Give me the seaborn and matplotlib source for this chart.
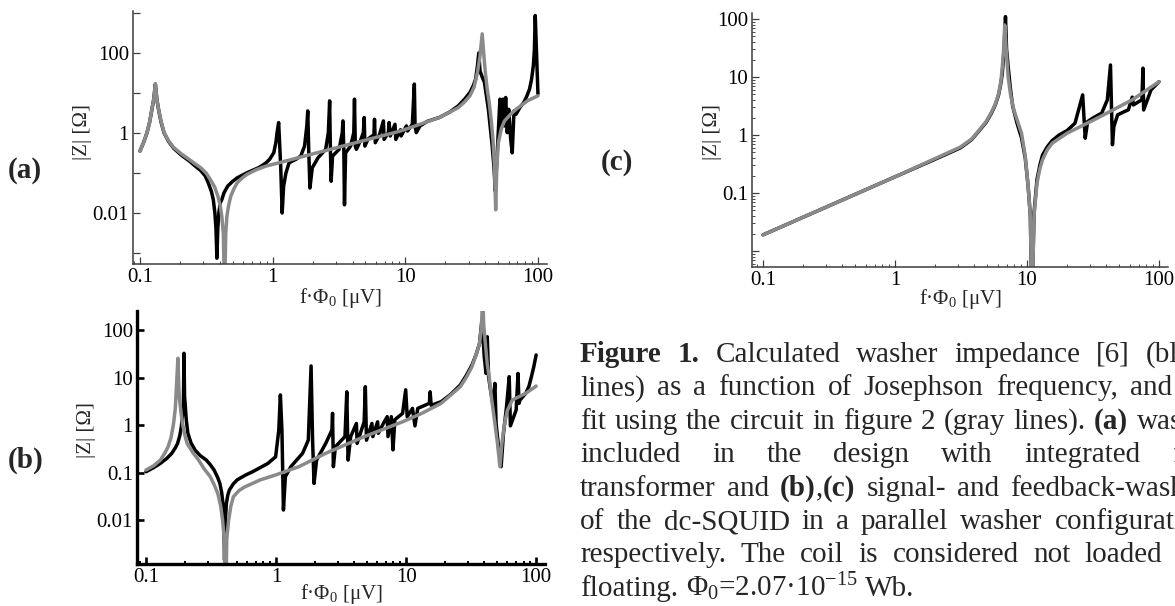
import numpy as np
import pandas as pd
import seaborn as sns
import matplotlib.pyplot as plt
from matplotlib.ticker import LogLocator, NullFormatter, NullLocator

# ---- panel (a): washer with integrated flux transformer ----
a_calc_x = [0.1, 0.107, 0.113, 0.118, 0.123, 0.127, 0.1306, 0.134, 0.138, 0.144, 0.152, 0.165, 0.18, 0.205,
            0.235, 0.26, 0.287, 0.31, 0.327, 0.345, 0.357, 0.367, 0.374, 0.38, 0.386, 0.393, 0.403, 0.414,
            0.43, 0.458, 0.5, 0.541, 0.6, 0.64, 0.7, 0.782, 0.85, 0.893, 0.95, 1.02, 1.06, 1.08, 1.11, 1.15,
            1.18, 1.21, 1.26, 1.33, 1.5, 1.63, 1.74, 1.81, 1.84, 1.87, 1.91, 1.99, 2.2, 2.51, 2.63, 2.69,
            2.72, 2.76, 2.83, 3.17, 3.35, 3.39, 3.44, 3.48, 3.55, 3.87, 4.09, 4.14, 4.2, 4.28, 4.58, 4.83,
            4.9, 4.96, 5.24, 5.8, 5.86, 5.94, 6.4, 6.84, 6.92, 7.45, 7.55, 7.7, 8.36, 8.48, 9.2, 9.3, 10.2,
            10.4, 11.3, 11.7, 11.85, 12.1, 12.9, 14.7, 18, 21.5, 25.1, 28, 30.7, 32.5, 33.9, 35, 35.8,
            36.6, 38, 39.5, 41, 42.3, 43.8, 45.2, 46.6, 47.7, 48.6, 49.6, 51.7, 52.7, 54.5, 55.6, 57.1,
            58.7, 60.2, 62.3, 64, 66, 68.4, 73, 78.2, 82, 86.4, 89.5, 92.3, 94, 95.4, 97.3, 100]
a_calc_y = [0.353, 0.6, 1.02, 1.8, 3.9, 7.0, 16.7, 7.0, 3.9, 1.9, 1.0, 0.6, 0.41, 0.28,
            0.2, 0.15, 0.115, 0.085, 0.057, 0.035, 0.0216, 0.01, 0.004, 0.00074, 0.004, 0.01, 0.018, 0.0216,
            0.032, 0.0467, 0.062, 0.0756, 0.09, 0.101, 0.115, 0.135, 0.16, 0.18, 0.22, 0.32, 0.6, 1.02, 1.82,
            0.149, 0.01, 0.047, 0.1, 0.18, 0.22, 0.265, 0.47, 1.5, 3.56, 0.39, 0.042, 0.135, 0.24, 0.39,
            1.02, 6.36, 0.57, 0.062, 0.265, 0.39, 1.02, 2.0, 0.39, 0.016, 0.32, 0.47, 1.02, 7.0, 0.47,
            0.39, 0.63, 1.02, 2.43, 0.47, 0.71, 0.9, 2.2, 0.57, 0.92, 2.0, 0.69, 1.02, 1.82, 0.84, 1.65,
            0.69, 1.2, 0.84, 1.5, 1.12, 1.65, 16.7, 1.5, 1.02, 1.5, 1.96, 2.43, 3.3, 4.77, 7.0, 10.3, 15,
            22.2, 48, 100, 35, 25, 18.4, 8, 3.9, 1.3, 0.47, 0.14, 0.035, 0.12, 0.47, 7.0, 1.24, 7.0, 1.5,
            7.7, 1.02, 3.9, 0.69, 0.32, 3.56, 2.94, 4.3, 5.8, 8.0, 12.5, 22, 48, 120, 865, 126, 9.4]
a_fit_x = [0.1, 0.107, 0.113, 0.118, 0.123, 0.127, 0.1306, 0.134, 0.138, 0.144, 0.152, 0.165, 0.18, 0.205,
           0.235, 0.26, 0.287, 0.315, 0.339, 0.365, 0.387, 0.403, 0.414, 0.425, 0.434, 0.443, 0.452, 0.465,
           0.483, 0.51, 0.541, 0.59, 0.64, 0.75, 0.893, 1.25, 1.74, 2.43, 3.39, 4.73, 6.6, 9.2, 12.9, 18,
           25.1, 28, 30.7, 33, 35, 36.5, 38, 39.2, 40.1, 41.5, 42.9, 44.5, 45.8, 47, 48, 49, 50.3, 53, 56,
           62, 68.4, 83.5, 100]
a_fit_y = [0.353, 0.6, 1.02, 1.8, 3.9, 7.0, 16.7, 7.0, 3.9, 2.0, 1.02, 0.62, 0.43, 0.3,
           0.218, 0.17, 0.135, 0.1, 0.069, 0.045, 0.026, 0.015, 0.0082, 0.003, 0.0001, 0.003, 0.0082, 0.015,
           0.026, 0.04, 0.057, 0.075, 0.092, 0.12, 0.149, 0.198, 0.265, 0.353, 0.472, 0.63, 0.84, 1.12,
           1.65, 2.43, 4.3, 6.0, 8.5, 14, 32.7, 80, 300, 80, 32.7, 12, 5.8, 2.0, 0.69, 0.15, 0.012, 0.15,
           0.57, 1.3, 2.0, 2.9, 3.9, 6.4, 8.5]

# ---- panel (b): signal washer ----
b_calc_x = [0.1, 0.115, 0.129, 0.145, 0.158, 0.168, 0.175, 0.182, 0.187, 0.191, 0.194, 0.196, 0.198, 0.2,
            0.204, 0.21, 0.222, 0.238, 0.26, 0.291, 0.31, 0.334, 0.355, 0.37, 0.382, 0.391, 0.397, 0.402,
            0.408, 0.415, 0.425, 0.438, 0.47, 0.502, 0.58, 0.66, 0.76, 0.867, 0.993, 1.05, 1.08, 1.11,
            1.14, 1.18, 1.3, 1.6, 1.77, 1.86, 1.91, 1.96, 2.05, 2.41, 2.69, 2.72, 2.76, 2.86, 3.39, 3.5,
            3.58, 3.75, 4.15, 4.2, 4.76, 4.86, 4.96, 5.46, 5.55, 6.04, 6.12, 6.69, 7.16, 7.26, 7.7, 7.93,
            8.2, 9.4, 9.93, 10.2, 11.2, 11.7, 12.3, 15.1, 15.3, 15.6, 18.6, 22, 26.1, 29, 32.1, 34.5, 36.7,
            38.3, 39.9, 41.2, 42.1, 43.1, 44.8, 46.6, 48.2, 49.2, 50.5, 51.7, 53.8, 56.1, 59.2, 62.1, 63.4,
            70.2, 72.6, 73.8, 75.2, 83.2, 88, 92, 96, 100]
b_calc_y = [0.104, 0.128, 0.156, 0.2, 0.254, 0.33, 0.41, 0.6, 0.92, 1.6, 2.86, 32.3, 4.0, 2.86,
            1.3, 0.67, 0.42, 0.3, 0.23, 0.183, 0.15, 0.113, 0.08, 0.059, 0.038, 0.022, 0.01, 0.00144,
            0.01, 0.022, 0.033, 0.043, 0.058, 0.07, 0.088, 0.104, 0.128, 0.156, 0.215, 0.785, 4.29, 0.785,
            0.0163, 0.082, 0.133, 0.254, 0.48, 17.5, 0.48, 0.059, 0.183, 0.41, 0.785, 1.76, 0.133, 0.35,
            0.57, 5.0, 0.183, 0.57, 1.08, 0.41, 1.17, 6.4, 0.48, 1.08, 0.57, 1.17, 0.67, 1.08, 1.5, 0.57,
            1.5, 0.3, 1.3, 1.76, 5.5, 1.5, 2.24, 0.96, 2.24, 2.86, 5.0, 2.6, 3.1, 4.4, 6.95, 11, 18.3, 30,
            52, 162, 27.5, 12.2, 72, 10.4, 5.0, 2.86, 7.5, 1.08, 0.55, 0.3, 0.133, 0.67, 2.43, 10.4, 0.96,
            2.07, 12.2, 2.86, 3.36, 4.64, 6.5, 10.4, 17, 29.8]
b_fit_x = [0.1, 0.115, 0.129, 0.14, 0.148, 0.156, 0.163, 0.168, 0.171, 0.176, 0.179, 0.181, 0.186, 0.191,
           0.198, 0.207, 0.23, 0.254, 0.28, 0.312, 0.335, 0.357, 0.375, 0.388, 0.4, 0.409, 0.418, 0.432,
           0.45, 0.47, 0.52, 0.576, 0.756, 0.993, 1.5, 2.41, 4.77, 9.4, 13.2, 18.6, 26.1, 29, 32.1, 34.5,
           36.7, 38, 38.8, 39.6, 40.7, 42, 43.5, 45.5, 48.2, 50.5, 52.7, 54.5, 57.2, 60, 65.6, 83.2, 100]
b_fit_y = [0.113, 0.14, 0.183, 0.26, 0.35, 0.55, 1.08, 2.2, 5.5, 25.4, 6.0, 3.5, 1.8, 1.08,
           0.65, 0.41, 0.26, 0.183, 0.12, 0.082, 0.055, 0.036, 0.02, 0.01, 0.004, 0.0001, 0.004, 0.01,
           0.02, 0.031, 0.042, 0.05, 0.07, 0.089, 0.133, 0.254, 0.57, 1.17, 1.76, 2.86, 6.4, 10, 16.9, 30,
           52, 120, 500, 120, 52, 20, 10.4, 3.5, 1.08, 0.4, 0.133, 0.4, 1.08, 2.0, 3.36, 4.64, 6.6]

# ---- panel (c): feedback washer ----
c_calc_x = [0.1, 0.3, 1, 2, 3.13, 3.8, 4.36, 4.9, 5.33, 5.75, 6.1, 6.35, 6.5, 6.7, 6.87, 7.0, 7.2, 7.5,
            7.8, 8.4, 9.08, 9.7, 10.2, 10.6, 10.9, 11.3, 11.9, 12.5, 13.1, 14.2, 15.5, 17.5, 20.2, 23.1,
            26.4, 27.6, 28.8, 32, 36.8, 40.6, 42.9, 43.7, 44.4, 45.5, 48.6, 54, 58.6, 62.7, 64, 68, 74.2,
            75.6, 76.5, 87, 100]
c_calc_y = [0.019, 0.057, 0.19, 0.38, 0.6, 0.83, 1.2, 1.65, 2.3, 3.3, 5.0, 8.0, 11.6, 30, 110, 30, 15,
            6.0, 3.1, 1.6, 0.9, 0.4, 0.13, 0.04, 0.001, 0.045, 0.17, 0.3, 0.45, 0.62, 0.8, 1.0, 1.2, 1.6,
            4.92, 0.88, 1.71, 2.0, 2.38, 4.04, 16.1, 2.72, 0.68, 1.4, 2.23, 2.5, 2.72, 4.5, 3.3, 3.6, 4.04,
            14.2, 2.7, 6.0, 8.3]
c_fit_x = [0.1, 0.3, 1, 2, 3.13, 3.8, 4.36, 4.9, 5.33, 5.75, 6.1, 6.35, 6.5, 6.65, 6.78, 6.95, 7.2, 7.5,
           7.95, 8.5, 9.08, 9.7, 10.2, 10.6, 10.9, 11.3, 11.9, 12.5, 13.1, 14.2, 15.5, 20.2, 32.2, 45,
           62.7, 100]
c_fit_y = [0.019, 0.057, 0.19, 0.39, 0.62, 0.85, 1.23, 1.7, 2.38, 3.4, 5.2, 8.5, 15, 30, 79, 30, 10,
           5.0, 2.7, 1.7, 1.08, 0.43, 0.13, 0.04, 0.001, 0.04, 0.148, 0.26, 0.374, 0.55, 0.72, 1.08, 1.83,
           2.72, 4.04, 8.3]

x_ticks = [0.1, 1, 10, 100]
x_tick_labels = ['0.1', '1', '10', '100']

caption = [
    '*Figure* *1.* Calculated washer impedance [6] (black',
    'lines) as a function of Josephson frequency, and the',
    'fit using the circuit in figure 2 (gray lines). *(a)* washer',
    'included in the design with integrated flux',
    'transformer and *(b)*,*(c)* signal- and feedback-washers',
    'of the dc-SQUID in a parallel washer configuration,',
    'respectively. The coil is considered not loaded and',
    'floating. Φ$_0$=2.07·10$^{-15}$ Wb.',
]

sns.set_theme(style='ticks')
plt.rcParams['font.family'] = ['Liberation Serif', 'DejaVu Serif']
plt.rcParams['mathtext.fontset'] = 'custom'
plt.rcParams['mathtext.rm'] = 'Liberation Serif'
plt.rcParams['mathtext.it'] = 'Liberation Serif:italic'
plt.rcParams['mathtext.bf'] = 'Liberation Serif:bold'
plt.rcParams['mathtext.default'] = 'regular'

W, H = 1175, 606
fig = plt.figure(figsize=(W / 100, H / 100), dpi=100)


def box(left, top, right, bottom):
    return [left / W, 1 - bottom / H, (right - left) / W, (bottom - top) / H]


def panel(rect, calc_x, calc_y, fit_x, fit_y, xlim, ylim, yticks, ylabels, axis_color, axis_width, yminor=True):
    ax = fig.add_axes(rect)
    sns.lineplot(x=calc_x, y=calc_y, ax=ax, color='black', linewidth=2.5, estimator=None, sort=False)
    sns.lineplot(x=fit_x, y=fit_y, ax=ax, color='#8a8a8a', linewidth=2.5, estimator=None, sort=False)
    ax.set_xscale('log')
    ax.set_yscale('log')
    ax.set_xticks(x_ticks, x_tick_labels)
    ax.set_yticks(yticks, ylabels)
    ax.set_xlim(*xlim)
    ax.set_ylim(*ylim)
    ax.xaxis.set_minor_locator(LogLocator(subs=np.arange(2, 10)))
    ax.xaxis.set_minor_formatter(NullFormatter())
    if yminor:
        ax.yaxis.set_minor_locator(LogLocator(subs=np.arange(2, 10)))
    else:
        ax.yaxis.set_minor_locator(NullLocator())
    ax.yaxis.set_minor_formatter(NullFormatter())
    ax.set_xlabel('')
    ax.set_ylabel('')
    sns.despine(ax=ax)
    for s in ['left', 'bottom']:
        ax.spines[s].set_color(axis_color)
        ax.spines[s].set_linewidth(axis_width)
    ax.tick_params(which='both', direction='in', color=axis_color, labelsize=15, pad=3, labelcolor='black')
    ax.tick_params(which='major', length=5, width=axis_width * 0.8)
    ax.tick_params(which='minor', length=2.5, width=axis_width * 0.6)
    ax.patch.set_alpha(0)
    return ax


panel(box(133, 11, 547, 264), a_calc_x, a_calc_y, a_fit_x, a_fit_y, (0.0886, 117), (5.3e-4, 1120),
      [1e-3, 1e-2, 0.1, 1, 10, 100, 1000], ['', '0.01', '', '1', '', '100', ''], '#3c3c3c', 1.1)
panel(box(137, 311, 545, 564), b_calc_x, b_calc_y, b_fit_x, b_fit_y, (0.0853, 117), (1.19e-3, 251),
      [0.01, 0.1, 1, 10, 100], ['0.01', '0.1', '1', '10', '100'], 'black', 2.4, yminor=False)
panel(box(752, 13, 1168, 267), c_calc_x, c_calc_y, c_fit_x, c_fit_y, (0.0825, 117), (0.0053, 127),
      [0.01, 0.1, 1, 10, 100], ['', '0.1', '1', '10', '100'], '#3c3c3c', 1.1)

# axis labels and panel letters
xlab = 'f·Φ$_0$ [μV]'
ylab = '|Z| [Ω]'
for x, y in [(340, 298), (341, 594), (960, 299)]:
    fig.text(x / W, 1 - y / H, xlab, fontsize=15, ha='center', va='center')
for x, y in [(82, 132), (87, 430), (712, 132)]:
    fig.text(x / W, 1 - y / H, ylab, fontsize=15, ha='center', va='center', rotation=90)
for x, y, s in [(8, 170, '(a)'), (8, 460, '(b)'), (601, 163, '(c)')]:
    fig.text(x / W, 1 - y / H, s, fontsize=21, fontweight='bold', ha='left', va='center')

# justified caption, cut at the right edge like the source
renderer = fig.canvas.get_renderer()
cap_left, cap_right = 580, 1219
base0, step = 362, 33.4
for i, line in enumerate(caption):
    words = []
    bold = False
    for word in line.split(' '):
        pieces = []
        for k, part in enumerate(word.split('*')):
            if k > 0:
                bold = not bold
            if part:
                t = fig.text(0, 0, part, fontsize=21, fontweight='bold' if bold else 'normal',
                             ha='left', va='baseline')
                pieces.append((t, t.get_window_extent(renderer).width))
        words.append(pieces)
    total = sum(w for pieces in words for _, w in pieces)
    if i == len(caption) - 1:
        gap = 7.5
    else:
        gap = (cap_right - cap_left - total) / (len(words) - 1)
    x = cap_left
    y = 1 - (base0 + i * step) / H
    for pieces in words:
        for t, w in pieces:
            t.set_position((x / W, y))
            x += w
        x += gap

fig.savefig('out.png', dpi=100)
